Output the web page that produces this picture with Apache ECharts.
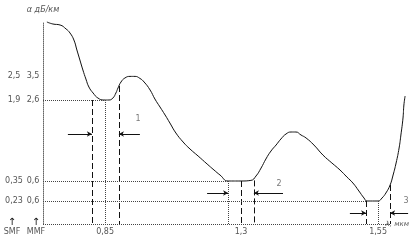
<!DOCTYPE html>
<html><head><meta charset="utf-8">
<script src="https://cdn.jsdelivr.net/npm/echarts@6/dist/echarts.min.js"></script>
<style>html,body{margin:0;padding:0;background:#fff}#c{width:411px;height:244px}</style>
</head><body><div id="c"></div>
<script>
// schematic wavelength position (arbitrary units) and attenuation level (arbitrary units)
const lambdaPos = [1.3,3.3,5.7,7.7,9,10.3,11.3,12.3,13.3,14.3,15.3,16.7,18.3,20.3,22,23.3,24.3,25,26,27.3,29,30.7,32.3,33.7,35.7,37.3,39,40.7,42.3,44.3,46.7,49,51.7,54.7,57,59,61.7,66,69.3,71,72.7,74.3,76,77.7,79.3,81,82.7,84.3,86,87.7,90.3,93.3,96.3,99,101.3,103.3,105.3,107,108,111.7,113,114.3,115.7,116.7,117.7,118.7,119.3,120,120.3,120.7];
const alpha = [101,100,99.5,97.5,95.5,92,87,82,77,72.5,68.5,65.5,63,62,62,63,65.5,68,71,73,73.8,73.8,72.8,71,67,62.5,58.5,54.5,50.5,45.5,41,37.5,34,30,27,24.5,21.5,21.5,21.8,24,28,32.5,36.5,39.5,42.5,45,46,46,44.5,43,39.5,34.5,30.5,27,23.5,20.5,16.5,13,11.5,11.5,13,15.5,19.5,24.5,30.5,38,44.5,53,59.5,64];

// transmission windows
const windowLabels = ['0,85','1,3','1,55'];
const windowCenter = [20.7, 66, 111.7];
const windowLeft = [16.3, 61.7, 107.7];
const windowRight = [25.3, 70.3, 115.7];
const windowMin = [62, 21.5, 11.5];
const windowRightTop = [69, 21.8, 19.5];
const levelEnd = [20.7, 61.7, 107.7];
const arrowLevel = [45, 15.5, 5.5];
const arrowLeftStart = [8.3, 54.7, 102.3];
const arrowRightStart = [32.3, 80, 121.7];
const windowNum = ['1','2','3'];
const windowNumX = [31.7, 78.7, 121];
const windowNumY = [52.5, 20, 11.5];

// attenuation tick labels (SMF / MMF)
const tickLevels = [74, 62, 21.5, 11.5];
const smfLabels = ['2,5', '1,9', '0,35', '0,23'];
const mmfLabels = ['3,5', '2,6', '0,6', '0,6'];

// wavelength-axis pointer (below the axis end)
const lambdaArrowX = 115.3;
const lambdaArrowFrom = -5;

const TXT = '#555';
const FONT = 'DejaVu Sans';

const markData = [];
const dotted = {type:'dotted', color:'#444', width:1};
const dashed = {type:[6,3], color:'#111', width:1};
const solid = {type:'solid', color:'#111', width:1};
for (let i = 0; i < 3; i++) {
  markData.push([{coord:[0, windowMin[i]], lineStyle:dotted}, {coord:[levelEnd[i], windowMin[i]]}]);
  markData.push([{coord:[windowLeft[i], windowMin[i]], lineStyle: i===1 ? dotted : dashed}, {coord:[windowLeft[i], 0]}]);
  markData.push([{coord:[windowCenter[i], windowMin[i]], lineStyle: i===1 ? dashed : dotted}, {coord:[windowCenter[i], 0]}]);
  markData.push([{coord:[windowRight[i], windowRightTop[i]], lineStyle:dashed}, {coord:[windowRight[i], 0]}]);
  markData.push([{coord:[arrowLeftStart[i], arrowLevel[i]], lineStyle:solid, symbol:'none'}, {coord:[windowLeft[i], arrowLevel[i]], symbol:'arrow', symbolSize:[4,5]}]);
  markData.push([{coord:[arrowRightStart[i], arrowLevel[i]], lineStyle:solid, symbol:'none'}, {coord:[windowRight[i], arrowLevel[i]], symbol:'arrow', symbolSize:[4,5]}]);
}
markData.push([{coord:[0, 0], lineStyle:dotted}, {coord:[115.7, 0]}]);
markData.push([{coord:[lambdaArrowX, lambdaArrowFrom], lineStyle:solid, symbol:'none'}, {coord:[lambdaArrowX, 0], symbol:'arrow', symbolSize:[4,5]}]);

const chart = echarts.init(document.getElementById('c'), null, {renderer:'canvas'});
chart.setOption({
  animation:false,
  backgroundColor:'#fff',
  textStyle:{fontFamily:FONT},
  grid:{left:43, top:22, width:366, height:202, containLabel:false, outerBoundsMode:'none'},
  xAxis:{
    type:'value', min:0, max:122,
    axisLine:{show:false}, axisTick:{show:false}, splitLine:{show:false},
    name:'λ, мкм', nameLocation:'end', nameGap:0, nameMoveOverlap:false,
    nameTextStyle:{align:'right', fontSize:7, fontStyle:'italic', color:TXT, padding:[30,0,0,0]},
    axisLabel:{
      customValues: windowCenter,
      margin:4, fontSize:8, color:TXT, fontFamily:FONT,
      formatter:(v)=>windowLabels[windowCenter.indexOf(v)]
    }
  },
  yAxis:[{
    type:'value', min:0, max:101,
    axisLine:{show:true, lineStyle:{type:'dotted', color:'#666', width:1}},
    axisTick:{show:false}, splitLine:{show:false},
    name:'α дБ/км', nameLocation:'end', nameGap:8,
    nameTextStyle:{fontSize:8, fontStyle:'italic', color:TXT, fontFamily:FONT},
    axisLabel:{
      customValues: tickLevels, margin:3, fontSize:8, color:TXT, fontFamily:FONT,
      formatter:(v)=>{
        const k = tickLevels.indexOf(v);
        return '{s|' + smfLabels[k] + '}{m|' + mmfLabels[k] + '}';
      },
      rich:{s:{width:24, align:'center', fontSize:8, color:TXT}, m:{width:14, align:'center', fontSize:8, color:TXT}}
    }
  },{
    type:'value', min:0, max:101, position:'left', offset:31,
    axisLine:{show:false}, axisTick:{show:false}, axisLabel:{show:false}, splitLine:{show:false},
    name:'{a|↑}\n{b|SMF}', nameLocation:'start', nameGap:-7,
    nameTextStyle:{rich:{a:{fontSize:10, color:'#111', lineHeight:11}, b:{fontSize:8, color:TXT}}}
  },{
    type:'value', min:0, max:101, position:'left', offset:7,
    axisLine:{show:false}, axisTick:{show:false}, axisLabel:{show:false}, splitLine:{show:false},
    name:'{a|↑}\n{b|MMF}', nameLocation:'start', nameGap:-7,
    nameTextStyle:{rich:{a:{fontSize:10, color:'#111', lineHeight:11}, b:{fontSize:8, color:TXT}}}
  }],
  series:[{
    type:'line', data: lambdaPos.map((x,i)=>[x, alpha[i]]),
    showSymbol:false, smooth:0.5, silent:true, clip:false,
    lineStyle:{color:'#111', width:1},
    markLine:{silent:true, symbol:['none','none'], label:{show:false}, animation:false, data:markData}
  },{
    type:'scatter', symbolSize:0, silent:true,
    data: windowNum.map((t,i)=>[windowNumX[i], windowNumY[i]]),
    label:{show:true, position:'inside', fontSize:8, color:TXT, formatter:(p)=>windowNum[p.dataIndex]}
  }]
});
</script></body></html>
